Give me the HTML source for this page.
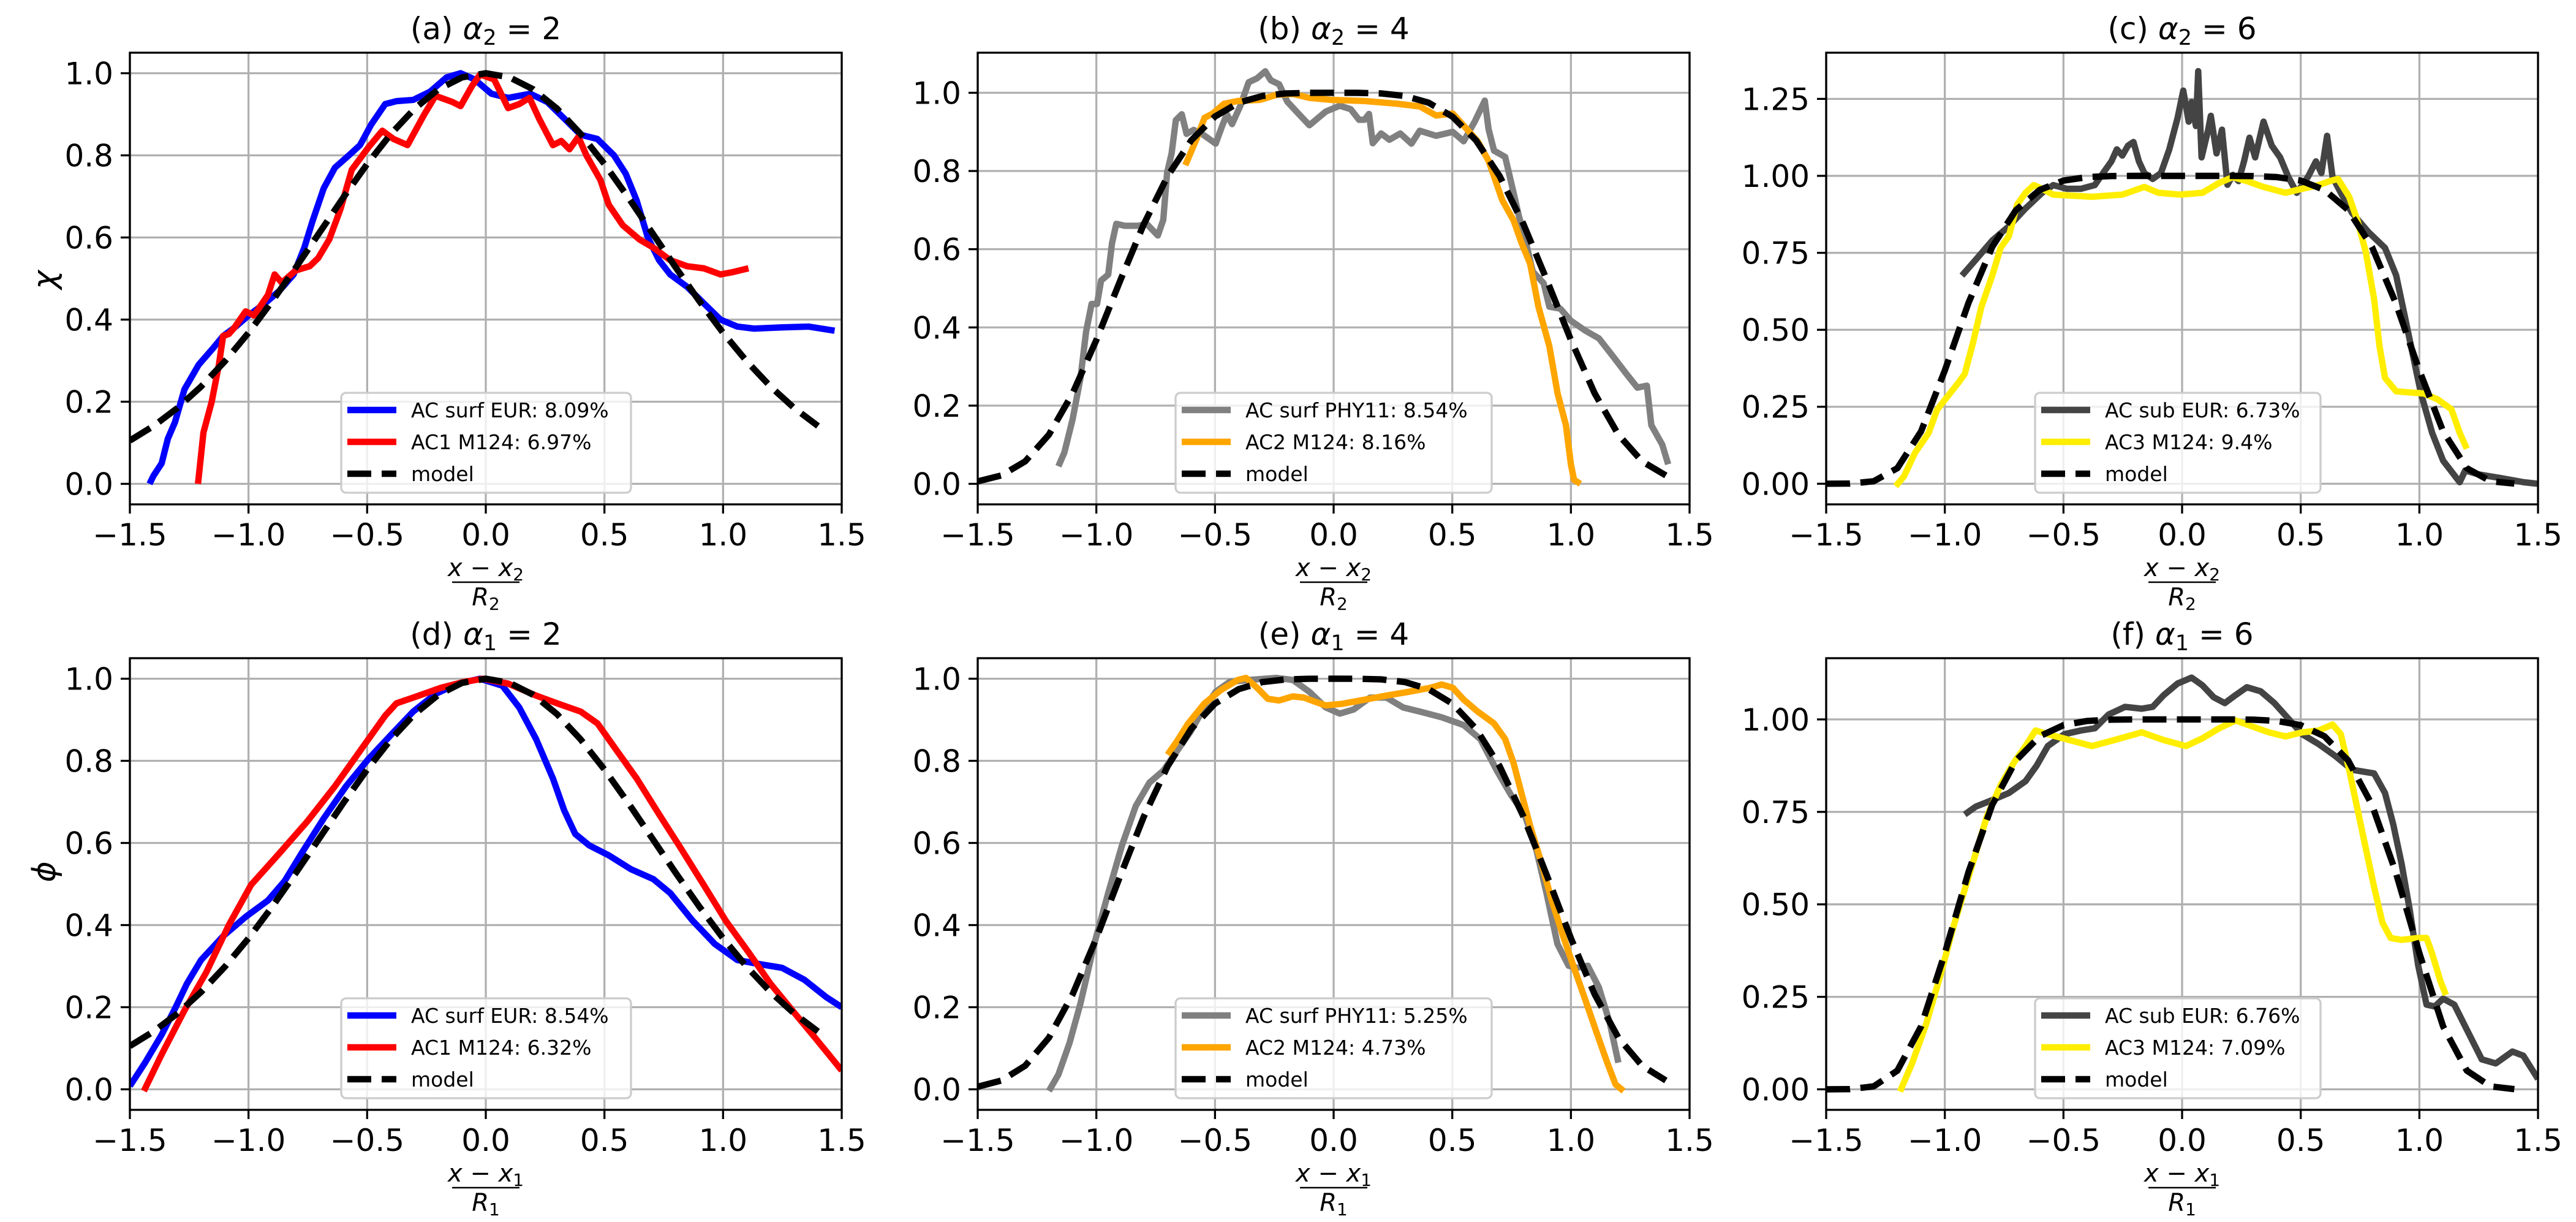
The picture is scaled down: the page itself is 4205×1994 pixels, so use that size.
<!DOCTYPE html>
<html><head><meta charset="utf-8"><title>Model comparison panels</title>
<style>
html,body{margin:0;padding:0;background:#fff;}
svg{display:block;font-family:"DejaVu Sans","Liberation Sans",sans-serif;}
</style></head>
<body>
<svg id="fig" width="4205" height="1994" viewBox="0 0 4205 1994" xmlns="http://www.w3.org/2000/svg"></svg>
<script>
// ---- data arrays ----
const xTicks = [-1.5,-1.0,-0.5,0.0,0.5,1.0,1.5];
const xTickLabels = ["\u22121.5","\u22121.0","\u22120.5","0.0","0.5","1.0","1.5"];
const yTicksA = [0,0.2,0.4,0.6,0.8,1.0];
const yTickLabelsA = ["0.0","0.2","0.4","0.6","0.8","1.0"];
const yTicksC = [0,0.25,0.5,0.75,1.0,1.25];
const yTickLabelsC = ["0.00","0.25","0.50","0.75","1.00","1.25"];
const yTicksF = [0,0.25,0.5,0.75,1.0];
const yTickLabelsF = ["0.00","0.25","0.50","0.75","1.00"];

const modelX = [-1.5,-1.4,-1.3,-1.2,-1.1,-1.0,-0.9,-0.8,-0.7,-0.6,-0.5,-0.4,-0.3,-0.2,-0.1,0,0.1,0.2,0.3,0.4,0.5,0.6,0.7,0.8,0.9,1.0,1.1,1.2,1.3,1.4];
const modelA2 = [0.1054,0.1409,0.1845,0.2369,0.2982,0.3679,0.4449,0.5273,0.6126,0.6977,0.7788,0.8521,0.9139,0.9608,0.9900,1,0.9900,0.9608,0.9139,0.8521,0.7788,0.6977,0.6126,0.5273,0.4449,0.3679,0.2982,0.2369,0.1845,0.1409];
const modelA4 = [0.0063,0.0215,0.0575,0.1257,0.2313,0.3679,0.5189,0.6639,0.7866,0.8784,0.9394,0.9747,0.9919,0.9984,0.9999,1,0.9999,0.9984,0.9919,0.9747,0.9394,0.8784,0.7866,0.6639,0.5189,0.3679,0.2313,0.1257,0.0575,0.0215];
const modelA6 = [0.0000,0.0005,0.0080,0.0505,0.1700,0.3679,0.5878,0.7694,0.8890,0.9544,0.9845,0.9959,0.9993,1,1,1,1,1,0.9993,0.9959,0.9845,0.9544,0.8890,0.7694,0.5878,0.3679,0.1700,0.0505,0.0080,0.0005];

const aBlueX=[-1.417,-1.40,-1.366,-1.34,-1.31,-1.27,-1.21,-1.15,-1.107,-1.06,-1.0,-0.93,-0.87,-0.81,-0.765,-0.73,-0.683,-0.636,-0.577,-0.53,-0.483,-0.424,-0.377,-0.306,-0.235,-0.165,-0.106,-0.047,0.024,0.094,0.188,0.259,0.33,0.4,0.47,0.54,0.59,0.636,0.683,0.73,0.777,0.848,0.918,0.989,1.06,1.13,1.25,1.36,1.47];
const aBlueY=[0,0.02,0.05,0.11,0.15,0.23,0.29,0.33,0.36,0.38,0.41,0.44,0.47,0.51,0.575,0.64,0.72,0.77,0.80,0.825,0.875,0.925,0.932,0.935,0.955,0.99,1.0,0.985,0.95,0.94,0.95,0.93,0.89,0.85,0.84,0.80,0.755,0.69,0.60,0.545,0.51,0.48,0.44,0.40,0.383,0.378,0.381,0.383,0.373];
const aRedX=[-1.213,-1.19,-1.155,-1.125,-1.107,-1.083,-1.06,-1.012,-0.977,-0.918,-0.89,-0.86,-0.8,-0.742,-0.706,-0.66,-0.612,-0.565,-0.494,-0.436,-0.389,-0.33,-0.259,-0.212,-0.141,-0.106,-0.059,-0.024,0.035,0.094,0.141,0.184,0.224,0.283,0.318,0.353,0.39,0.424,0.483,0.518,0.577,0.648,0.707,0.777,0.848,0.918,0.989,1.036,1.107];
const aRedY=[0,0.125,0.20,0.29,0.36,0.365,0.38,0.42,0.41,0.46,0.51,0.49,0.52,0.53,0.55,0.595,0.67,0.765,0.82,0.86,0.84,0.825,0.90,0.945,0.93,0.92,0.968,0.997,0.985,0.915,0.925,0.94,0.89,0.825,0.835,0.815,0.845,0.80,0.74,0.68,0.63,0.595,0.575,0.545,0.53,0.525,0.51,0.515,0.525];

const bGrayX=[-1.16,-1.135,-1.10,-1.067,-1.043,-1.02,-0.997,-0.98,-0.95,-0.934,-0.916,-0.88,-0.823,-0.788,-0.741,-0.718,-0.702,-0.683,-0.665,-0.64,-0.62,-0.59,-0.555,-0.497,-0.47,-0.45,-0.428,-0.393,-0.358,-0.323,-0.288,-0.265,-0.23,-0.195,-0.149,-0.102,-0.033,0.026,0.072,0.107,0.13,0.149,0.165,0.2,0.235,0.281,0.328,0.363,0.432,0.502,0.548,0.595,0.637,0.653,0.676,0.723,0.758,0.781,0.804,0.839,0.885,0.909,0.955,1.0,1.06,1.118,1.176,1.234,1.28,1.32,1.339,1.385,1.41];
const bGrayY=[0.045,0.08,0.165,0.27,0.39,0.46,0.46,0.52,0.535,0.615,0.665,0.66,0.66,0.665,0.635,0.675,0.795,0.845,0.93,0.945,0.895,0.905,0.895,0.87,0.915,0.945,0.92,0.967,1.027,1.037,1.055,1.032,1.022,0.977,0.947,0.917,0.952,0.967,0.958,0.931,0.931,0.946,0.871,0.896,0.88,0.896,0.87,0.903,0.89,0.90,0.876,0.927,0.98,0.907,0.852,0.836,0.745,0.684,0.634,0.543,0.513,0.453,0.448,0.417,0.392,0.372,0.327,0.281,0.246,0.251,0.15,0.1,0.05];
const bOrangeX=[-0.625,-0.579,-0.544,-0.509,-0.462,-0.404,-0.31,-0.24,-0.172,-0.102,-0.01,0.13,0.27,0.363,0.432,0.502,0.548,0.607,0.653,0.688,0.711,0.758,0.793,0.828,0.863,0.909,0.944,0.979,1.0,1.013,1.04];
const bOrangeY=[0.815,0.88,0.936,0.947,0.972,0.979,0.982,0.995,0.997,0.987,0.982,0.979,0.972,0.965,0.942,0.947,0.916,0.876,0.826,0.765,0.725,0.674,0.614,0.563,0.453,0.352,0.231,0.15,0.05,0.01,0.0];

const cDarkX=[-0.928,-0.87,-0.8,-0.73,-0.66,-0.59,-0.543,-0.485,-0.427,-0.368,-0.333,-0.298,-0.275,-0.252,-0.228,-0.205,-0.182,-0.159,-0.124,-0.089,-0.054,-0.019,0.005,0.028,0.04,0.058,0.068,0.082,0.11,0.121,0.145,0.168,0.191,0.214,0.238,0.261,0.284,0.308,0.343,0.378,0.413,0.448,0.483,0.53,0.564,0.587,0.611,0.634,0.669,0.716,0.786,0.855,0.902,0.937,0.972,1.007,1.054,1.1,1.17,1.193,1.252,1.345,1.438,1.497];
const cDarkY=[0.676,0.727,0.79,0.836,0.894,0.945,0.97,0.958,0.958,0.97,1.009,1.047,1.086,1.066,1.098,1.11,1.047,1.009,0.99,1.009,1.086,1.188,1.277,1.176,1.24,1.162,1.34,1.06,1.15,1.195,1.073,1.15,0.971,1.003,0.983,1.047,1.124,1.06,1.176,1.098,1.06,0.996,0.945,0.996,1.047,1.009,1.13,0.996,0.945,0.88,0.817,0.766,0.677,0.55,0.42,0.293,0.165,0.075,0.005,0.043,0.03,0.018,0.005,0.0];
const cYellowX=[-1.207,-1.172,-1.126,-1.068,-1.033,-0.986,-0.94,-0.916,-0.881,-0.846,-0.8,-0.765,-0.73,-0.695,-0.66,-0.625,-0.59,-0.543,-0.38,-0.252,-0.159,-0.1,-0.007,0.086,0.156,0.214,0.273,0.343,0.436,0.506,0.576,0.622,0.657,0.704,0.739,0.774,0.809,0.832,0.855,0.902,1.019,1.077,1.135,1.17,1.2];
const cYellowY=[-0.008,0.024,0.10,0.165,0.24,0.286,0.331,0.357,0.459,0.574,0.676,0.766,0.804,0.907,0.945,0.97,0.958,0.939,0.932,0.939,0.964,0.945,0.939,0.945,0.977,0.996,0.983,0.964,0.945,0.958,0.97,0.983,0.99,0.932,0.855,0.753,0.6,0.446,0.344,0.3,0.293,0.274,0.242,0.165,0.114];

const dBlueX=[-1.5,-1.436,-1.366,-1.307,-1.26,-1.2,-1.107,-1.012,-0.918,-0.848,-0.777,-0.683,-0.589,-0.494,-0.4,-0.306,-0.212,-0.118,-0.024,0.07,0.141,0.212,0.283,0.33,0.377,0.436,0.518,0.612,0.706,0.777,0.871,0.965,1.06,1.154,1.248,1.342,1.436,1.5];
const dBlueY=[0.008,0.065,0.133,0.20,0.257,0.315,0.373,0.42,0.46,0.507,0.574,0.66,0.738,0.805,0.863,0.92,0.963,0.988,1.0,0.983,0.93,0.853,0.757,0.68,0.622,0.594,0.57,0.536,0.512,0.478,0.411,0.354,0.315,0.305,0.296,0.267,0.224,0.20];
const dRedX=[-1.441,-1.366,-1.272,-1.177,-1.083,-0.989,-0.871,-0.753,-0.636,-0.518,-0.424,-0.377,-0.306,-0.188,-0.094,-0.012,0.094,0.212,0.306,0.4,0.471,0.541,0.636,0.73,0.824,0.918,1.012,1.107,1.2,1.295,1.39,1.5];
const dRedY=[-0.004,0.085,0.19,0.286,0.40,0.498,0.574,0.652,0.738,0.834,0.91,0.94,0.954,0.978,0.992,1.0,0.988,0.959,0.939,0.92,0.891,0.834,0.757,0.67,0.585,0.498,0.41,0.334,0.257,0.19,0.124,0.046];

const eGrayX=[-1.2,-1.16,-1.113,-1.067,-1.009,-0.95,-0.892,-0.834,-0.776,-0.718,-0.66,-0.602,-0.555,-0.497,-0.439,-0.358,-0.242,-0.172,-0.102,-0.033,0.026,0.084,0.153,0.223,0.293,0.363,0.456,0.548,0.618,0.688,0.746,0.804,0.85,0.897,0.943,0.99,1.025,1.071,1.118,1.164,1.2];
const eGrayY=[-0.004,0.036,0.113,0.209,0.354,0.478,0.594,0.69,0.747,0.776,0.824,0.872,0.92,0.968,0.992,0.997,1.002,0.997,0.968,0.93,0.915,0.925,0.954,0.954,0.93,0.92,0.906,0.887,0.853,0.776,0.718,0.67,0.594,0.478,0.354,0.301,0.296,0.301,0.248,0.161,0.065];
const eOrangeX=[-0.7,-0.66,-0.613,-0.544,-0.474,-0.404,-0.369,-0.323,-0.277,-0.23,-0.172,-0.125,-0.079,-0.033,0.037,0.13,0.223,0.316,0.409,0.455,0.502,0.548,0.607,0.676,0.723,0.758,0.793,0.828,0.874,0.92,0.967,1.013,1.06,1.106,1.153,1.188,1.222];
const eOrangeY=[0.815,0.848,0.891,0.94,0.973,0.997,1.002,0.978,0.951,0.947,0.957,0.954,0.944,0.935,0.939,0.949,0.959,0.968,0.978,0.986,0.978,0.949,0.92,0.891,0.853,0.795,0.718,0.642,0.555,0.459,0.373,0.296,0.219,0.142,0.065,0.012,-0.004];

const fDarkX=[-0.916,-0.87,-0.8,-0.73,-0.66,-0.613,-0.566,-0.496,-0.427,-0.368,-0.31,-0.24,-0.17,-0.124,-0.077,-0.019,0.04,0.086,0.133,0.18,0.226,0.273,0.331,0.389,0.448,0.506,0.576,0.646,0.716,0.762,0.809,0.855,0.89,0.925,0.96,0.995,1.03,1.065,1.1,1.147,1.205,1.263,1.322,1.392,1.438,1.5];
const fDarkY=[0.743,0.764,0.782,0.801,0.833,0.875,0.928,0.96,0.97,0.976,1.013,1.034,1.029,1.034,1.066,1.097,1.113,1.092,1.06,1.044,1.066,1.087,1.076,1.044,1.002,0.96,0.933,0.901,0.864,0.859,0.854,0.801,0.716,0.61,0.483,0.335,0.229,0.224,0.245,0.229,0.155,0.081,0.07,0.102,0.091,0.028];
const fYellowX=[-1.189,-1.138,-1.079,-1.021,-0.963,-0.893,-0.823,-0.765,-0.706,-0.66,-0.618,-0.566,-0.473,-0.38,-0.287,-0.17,-0.077,0.016,0.086,0.156,0.226,0.296,0.366,0.436,0.506,0.576,0.634,0.669,0.704,0.739,0.774,0.809,0.844,0.879,0.925,0.995,1.03,1.054,1.089,1.112];
const fYellowY=[-0.006,0.07,0.176,0.303,0.441,0.589,0.737,0.822,0.886,0.928,0.97,0.96,0.944,0.928,0.944,0.965,0.944,0.928,0.949,0.976,0.997,0.981,0.965,0.954,0.965,0.97,0.986,0.96,0.864,0.758,0.652,0.547,0.451,0.409,0.404,0.409,0.409,0.367,0.292,0.255];

// ---- rendering ----
const NS="http://www.w3.org/2000/svg";
const svg=document.getElementById('fig');
function mk(tag,attrs,parent){const e=document.createElementNS(NS,tag);for(const k in attrs)e.setAttribute(k,attrs[k]);(parent||svg).appendChild(e);return e;}

const W=1162, H=737;
const panels=[
 {id:'a',L:212,T:86,ymin:-0.05,ymax:1.05,yt:yTicksA,ytl:yTickLabelsA,title:['(a) ','2','2'],ylab:'\u03c7',xsub:'2',
  s:[{x:aBlueX,y:aBlueY,c:'#0000ff',lab:'AC surf EUR: 8.09%'},{x:aRedX,y:aRedY,c:'#ff0000',lab:'AC1 M124: 6.97%'}],model:modelA2,legL:557,legW:473},
 {id:'b',L:1596,T:86,ymin:-0.0525,ymax:1.1025,yt:yTicksA,ytl:yTickLabelsA,title:['(b) ','2','4'],ylab:null,xsub:'2',
  s:[{x:bGrayX,y:bGrayY,c:'#808080',lab:'AC surf PHY11: 8.54%'},{x:bOrangeX,y:bOrangeY,c:'#ffa500',lab:'AC2 M124: 8.16%'}],model:modelA4,legL:1919,legW:516},
 {id:'c',L:2981,T:86,ymin:-0.067,ymax:1.40,yt:yTicksC,ytl:yTickLabelsC,title:['(c) ','2','6'],ylab:null,xsub:'2',
  s:[{x:cDarkX,y:cDarkY,c:'#444444',lab:'AC sub EUR: 6.73%'},{x:cYellowX,y:cYellowY,c:'#ffee00',lab:'AC3 M124: 9.4%'}],model:modelA6,legL:3322,legW:466},
 {id:'d',L:212,T:1074,ymin:-0.05,ymax:1.05,yt:yTicksA,ytl:yTickLabelsA,title:['(d) ','1','2'],ylab:'\u03d5',xsub:'1',
  s:[{x:dBlueX,y:dBlueY,c:'#0000ff',lab:'AC surf EUR: 8.54%'},{x:dRedX,y:dRedY,c:'#ff0000',lab:'AC1 M124: 6.32%'}],model:modelA2,legL:557,legW:473},
 {id:'e',L:1596,T:1074,ymin:-0.05,ymax:1.05,yt:yTicksA,ytl:yTickLabelsA,title:['(e) ','1','4'],ylab:null,xsub:'1',
  s:[{x:eGrayX,y:eGrayY,c:'#808080',lab:'AC surf PHY11: 5.25%'},{x:eOrangeX,y:eOrangeY,c:'#ffa500',lab:'AC2 M124: 4.73%'}],model:modelA4,legL:1919,legW:516},
 {id:'f',L:2981,T:1074,ymin:-0.0555,ymax:1.1655,yt:yTicksF,ytl:yTickLabelsF,title:['(f) ','1','6'],ylab:null,xsub:'1',
  s:[{x:fDarkX,y:fDarkY,c:'#444444',lab:'AC sub EUR: 6.76%'},{x:fYellowX,y:fYellowY,c:'#ffee00',lab:'AC3 M124: 7.09%'}],model:modelA6,legL:3322,legW:466}
];

panels.forEach(p=>{
  const g=mk('g',{});
  
  
  const xs=v=>p.L+(v+1.5)/3*W;
  const ys=v=>p.T+H-(v-p.ymin)/(p.ymax-p.ymin)*H;
  const B=p.T+H;
  mk('clipPath',{id:'clip'+p.id},g).appendChild((()=>{const r=document.createElementNS(NS,'rect');r.setAttribute('x',p.L);r.setAttribute('y',p.T);r.setAttribute('width',W);r.setAttribute('height',H);return r;})());
  // grid
  const grid=mk('g',{stroke:'#b0b0b0','stroke-width':3.3},g);
  
  
  xTicks.forEach(t=>mk('line',{x1:xs(t),x2:xs(t),y1:p.T,y2:B},grid));
  p.yt.forEach(t=>mk('line',{x1:p.L,x2:p.L+W,y1:ys(t),y2:ys(t)},grid));
  // series
  const sg=mk('g',{'clip-path':'url(#clip'+p.id+')',fill:'none','stroke-linejoin':'round'},g);
  p.s.forEach((s,i)=>{
    const d=s.x.map((v,k)=>(k?'L':'M')+xs(v).toFixed(1)+' '+ys(s.y[k]).toFixed(1)).join(' ');
    const path=mk('path',{d:d,stroke:s.c,'stroke-width':10.4},sg);
    
    
  });
  const md=modelX.map((v,k)=>(k?'L':'M')+xs(v).toFixed(1)+' '+ys(p.model[k]).toFixed(1)).join(' ');
  const mp=mk('path',{d:md,stroke:'#000','stroke-width':10.4,'stroke-dasharray':'39 17'},sg);
  
  
  // spines
  const sp=mk('rect',{x:p.L,y:p.T,width:W,height:H,fill:'none',stroke:'#000','stroke-width':3.3},g);
  
  
  // ticks
  const tk=mk('g',{stroke:'#000','stroke-width':3.3},g);
  xTicks.forEach(t=>mk('line',{x1:xs(t),x2:xs(t),y1:B,y2:B+15},tk));
  p.yt.forEach(t=>mk('line',{x1:p.L-15,x2:p.L,y1:ys(t),y2:ys(t)},tk));
  const tl=mk('g',{'font-size':50,fill:'#000'},g);
  xTicks.forEach((t,i)=>{const e=mk('text',{x:xs(t),y:B+67,'text-anchor':'middle'},tl);e.textContent=xTickLabels[i];
    
    });
  p.yt.forEach((t,i)=>{const e=mk('text',{x:p.L-27,y:ys(t)+18,'text-anchor':'end'},tl);e.textContent=p.ytl[i];
    
    });
  // title
  const cx=p.L+W/2;
  const tt=mk('text',{x:cx,y:p.T-22,'text-anchor':'middle','font-size':50},g);
  
  
  const t1=mk('tspan',{},tt);t1.textContent=p.title[0];
  const t2=mk('tspan',{'font-style':'italic'},tt);t2.textContent='\u03b1';
  const t3=mk('tspan',{'font-size':35,dy:9},tt);t3.textContent=p.title[1];
  const t4=mk('tspan',{dy:-9},tt);t4.textContent=' = '+p.title[2];
  // x label fraction
  const xl=mk('g',{'font-size':40},g);
  
  
  const num=mk('text',{x:cx,y:B+117,'text-anchor':'middle'},xl);
  const n1=mk('tspan',{'font-style':'italic'},num);n1.textContent='x';
  const n2=mk('tspan',{},num);n2.textContent=' \u2212 ';
  const n3=mk('tspan',{'font-style':'italic'},num);n3.textContent='x';
  const n4=mk('tspan',{'font-size':28,dy:7},num);n4.textContent=p.xsub;
  mk('line',{x1:cx-55,x2:cx+55,y1:B+127,y2:B+127,stroke:'#000','stroke-width':2.5},xl);
  const den=mk('text',{x:cx,y:B+165,'text-anchor':'middle'},xl);
  const d1=mk('tspan',{'font-style':'italic'},den);d1.textContent='R';
  const d2=mk('tspan',{'font-size':28,dy:7},den);d2.textContent=p.xsub;
  // y label
  if(p.ylab){const cy=p.T+H/2-(p.id==='a'?-2:20);
    const yl=mk('text',{x:0,y:0,'text-anchor':'middle','font-size':52,'font-style':'italic',transform:'translate(90,'+cy+') rotate(-90)'},g);
    yl.textContent=p.ylab;
    
    }
  // legend
  const lg=mk('g',{},g);
  
  
  const LT=p.T+555, LL=p.legL;
  mk('rect',{x:LL,y:LT,width:p.legW,height:163,rx:8,fill:'#fff','fill-opacity':0.8,stroke:'#cccccc','stroke-width':3.3},lg);
  const rows=[{c:p.s[0].c,lab:p.s[0].lab},{c:p.s[1].c,lab:p.s[1].lab},{c:'#000',lab:'model',dash:true}];
  rows.forEach((r,i)=>{
    const y=LT+28+i*52;
    const ent=mk('g',{},lg);
    
    
    const ln=mk('line',{x1:LL+10,x2:LL+90,y1:y,y2:y,stroke:r.c,'stroke-width':10.4},ent);
    if(r.dash)ln.setAttribute('stroke-dasharray','39 17');
    const tx=mk('text',{x:LL+114,y:y+12,'font-size':33},ent);tx.textContent=r.lab;
  });
});
</script>
</body></html>
